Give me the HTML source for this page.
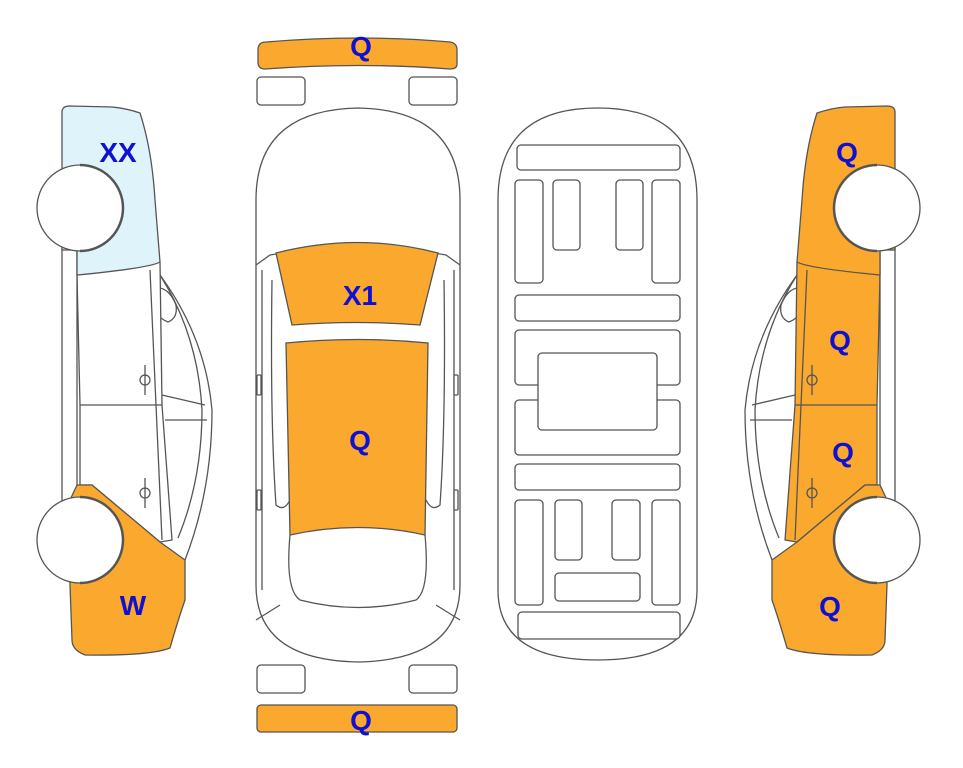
<!DOCTYPE html>
<html><head><meta charset="utf-8"><style>
html,body{margin:0;padding:0;background:#fff;width:963px;height:768px;overflow:hidden}
svg{display:block}
text{font-family:"Liberation Sans",Arial,sans-serif;font-weight:bold;font-size:28px;fill:#1010d0;text-anchor:middle}
</style></head><body>
<svg width="963" height="768" viewBox="0 0 963 768" xmlns="http://www.w3.org/2000/svg">

<!-- left car -->
<g stroke="#555" stroke-width="1.3" stroke-linejoin="round">
  <path d="M150,262 Q205,330 212,410 Q212,490 185,560 L160,545 L150,262 Z" fill="#fff"/>
  <path d="M160,275 Q198,335 202,410 Q202,480 178,538" fill="none"/>
  <path d="M162,395 L205,405 M165,420 L207,420" fill="none"/>
  <path d="M153,290 Q150,315 168,322 Q178,318 176,305 Q170,290 160,288 Z" fill="#fff"/>
  <path d="M77,275 L160,262 L162,405 L172,540 L160,542 L92,485 L80,485 L80,405 Z" fill="#fff"/>
  <path d="M80,405 L162,405 M150,270 L162,540" fill="none"/>
  <path d="M145,365 L145,395 M140,380 a5,5 0 1 0 10,0 a5,5 0 1 0 -10,0 M145,478 L145,508 M140,493 a5,5 0 1 0 10,0 a5,5 0 1 0 -10,0" fill="none"/>
  <rect x="62" y="245" width="15" height="260" fill="#fff"/>
  <path d="M62,112 Q62,106 70,106 L112,107 Q125,108 140,113 Q152,150 155,200 L160,262 Q150,268 77,275 L77,250 L62,250 Z" fill="#dff3fb"/>
  <path d="M77,485 L92,485 L160,542 L185,560 L185,600 Q178,620 170,648 Q150,656 85,655 Q72,650 72,640 L70,585 L70,500 Z" fill="#fba82e"/>
  <circle cx="80" cy="208" r="43" fill="#fff"/>
  <path d="M80,165 A43,43 0 0 1 80,251" fill="none" stroke-width="2.5"/>
  <circle cx="80" cy="540" r="43" fill="#fff"/>
  <path d="M80,497 A43,43 0 0 1 80,583" fill="none" stroke-width="2.5"/>
</g>

<!-- right car (mirrored) -->
<g transform="translate(957,0) scale(-1,1)" stroke="#555" stroke-width="1.3" stroke-linejoin="round">
  <path d="M150,262 Q205,330 212,410 Q212,490 185,560 L160,545 L150,262 Z" fill="#fff"/>
  <path d="M160,275 Q198,335 202,410 Q202,480 178,538" fill="none"/>
  <path d="M162,395 L205,405 M165,420 L207,420" fill="none"/>
  <path d="M153,290 Q150,315 168,322 Q178,318 176,305 Q170,290 160,288 Z" fill="#fff"/>
  <path d="M77,275 L160,262 L162,405 L172,540 L160,542 L92,485 L80,485 L80,405 Z" fill="#fba82e"/>
  <path d="M80,405 L162,405 M150,270 L162,540" fill="none"/>
  <path d="M145,365 L145,395 M140,380 a5,5 0 1 0 10,0 a5,5 0 1 0 -10,0 M145,478 L145,508 M140,493 a5,5 0 1 0 10,0 a5,5 0 1 0 -10,0" fill="none"/>
  <rect x="62" y="245" width="15" height="260" fill="#fff"/>
  <path d="M62,112 Q62,106 70,106 L112,107 Q125,108 140,113 Q152,150 155,200 L160,262 Q150,268 77,275 L77,250 L62,250 Z" fill="#fba82e"/>
  <path d="M77,485 L92,485 L160,542 L185,560 L185,600 Q178,620 170,648 Q150,656 85,655 Q72,650 72,640 L70,585 L70,500 Z" fill="#fba82e"/>
  <circle cx="80" cy="208" r="43" fill="#fff"/>
  <path d="M80,165 A43,43 0 0 1 80,251" fill="none" stroke-width="2.5"/>
  <circle cx="80" cy="540" r="43" fill="#fff"/>
  <path d="M80,497 A43,43 0 0 1 80,583" fill="none" stroke-width="2.5"/>
</g>

<!-- top view -->
<g stroke="#555" stroke-width="1.3" fill="#fff">
  <path d="M258,50 Q258,42 266,42 Q360,34 450,42 Q457,43 457,50 L457,64 Q457,69 450,69 Q360,62 265,69 Q258,69 258,62 Z" fill="#fba82e"/>
  <rect x="257" y="77" width="48" height="28" rx="4"/>
  <rect x="409" y="77" width="48" height="28" rx="4"/>
  <rect x="257" y="665" width="48" height="28" rx="4"/>
  <rect x="409" y="665" width="48" height="28" rx="4"/>
  <rect x="257" y="705" width="200" height="27" rx="4" fill="#fba82e"/>
  <path d="M256,200 Q256,110 358,108 Q460,110 460,200 L460,585 Q460,660 358,662 Q256,660 256,585 Z"/>
  <path d="M256,265 L270,255 Q360,240 446,255 L460,265" fill="none"/>
  <path d="M262,270 L262,590 M454,270 L454,590 M272,280 Q270,420 276,505 Q284,512 290,500 M444,280 Q446,420 440,505 Q432,512 426,500" fill="none"/>
  <path d="M276,253 Q358,232 438,253 L420,325 Q358,320 292,325 Z" fill="#fba82e"/>
  <path d="M286,343 Q358,336 428,343 L425,535 Q358,520 290,535 Z" fill="#fba82e"/>
  <path d="M290,535 Q285,590 300,600 Q358,615 416,600 Q430,590 425,535" fill="none"/>
  <path d="M256,620 L280,605 M460,620 L436,605" fill="none"/>
  <rect x="257" y="375" width="4" height="20" rx="1"/>
  <rect x="454" y="375" width="4" height="20" rx="1"/>
  <rect x="257" y="490" width="4" height="20" rx="1"/>
  <rect x="454" y="490" width="4" height="20" rx="1"/>
</g>

<!-- underside -->
<g stroke="#555" stroke-width="1.3" fill="#fff">
  <path d="M498,200 Q498,108 598,108 Q697,108 697,200 L697,590 Q697,660 598,660 Q498,660 498,590 Z"/>
  <rect x="517" y="145" width="163" height="25" rx="4"/>
  <rect x="515" y="180" width="28" height="103" rx="4"/>
  <rect x="553" y="180" width="27" height="70" rx="4"/>
  <rect x="616" y="180" width="27" height="70" rx="4"/>
  <rect x="652" y="180" width="28" height="103" rx="4"/>
  <rect x="515" y="295" width="165" height="26" rx="4"/>
  <rect x="515" y="330" width="165" height="55" rx="4"/>
  <rect x="515" y="400" width="165" height="55" rx="4"/>
  <rect x="538" y="353" width="119" height="77" rx="4"/>
  <rect x="515" y="464" width="165" height="26" rx="4"/>
  <rect x="515" y="500" width="28" height="105" rx="4"/>
  <rect x="555" y="500" width="27" height="60" rx="4"/>
  <rect x="612" y="500" width="28" height="60" rx="4"/>
  <rect x="652" y="500" width="28" height="105" rx="4"/>
  <rect x="555" y="573" width="85" height="28" rx="4"/>
  <rect x="518" y="612" width="162" height="27" rx="4"/>
</g>

<text x="361" y="56">Q</text>
<text x="361" y="730">Q</text>
<text x="360" y="305">X1</text>
<text x="360" y="450">Q</text>
<text x="118" y="162">XX</text>
<text x="133" y="615">W</text>
<text x="847" y="162">Q</text>
<text x="840" y="350">Q</text>
<text x="843" y="462">Q</text>
<text x="830" y="616">Q</text>
</svg>
</body></html>
